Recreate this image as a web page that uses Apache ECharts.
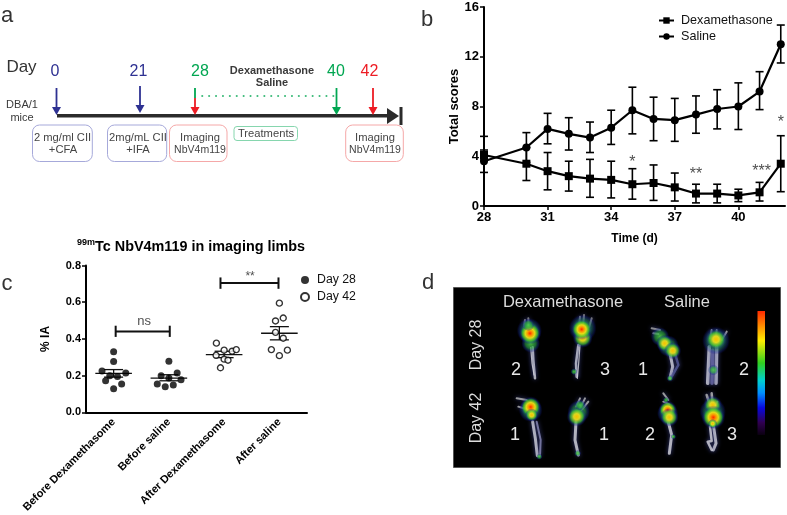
<!DOCTYPE html>
<html><head><meta charset="utf-8">
<style>html,body{margin:0;padding:0;background:#fff}#c{width:787px;height:515px}</style>
<script src="https://cdn.jsdelivr.net/npm/echarts@6/dist/echarts.min.js"></script>
</head><body><div id="c"></div>
<script>
// ---------- Panel b data ----------
const days = [28,30,31,32,33,34,35,36,37,38,39,40,41,42];
const dexMean = [4.1,3.4,2.8,2.4,2.2,2.1,1.75,1.85,1.5,1.0,1.0,0.85,1.1,3.4];
const dexHi   = [4.5,4.7,4.3,3.6,3.75,3.6,3.0,3.3,2.65,1.75,1.75,1.35,1.9,5.65];
const dexLo   = [3.7,2.05,1.3,1.2,0.7,0.65,0.55,0.45,0.4,0.25,0.25,0.35,0.4,1.15];
const salMean = [3.6,4.7,6.2,5.8,5.5,6.3,7.7,7.0,6.9,7.35,7.8,8.0,9.2,13.0];
const salHi   = [5.6,5.9,7.45,7.1,6.75,7.7,9.55,8.75,8.65,8.85,9.35,9.9,10.8,14.55];
const salLo   = [2.7,3.5,5.0,4.5,4.3,4.95,5.8,5.25,5.2,5.85,6.2,6.15,7.75,11.5];
const sigB = [[35,3.45,'*'],[38,2.55,'**'],[41.1,2.75,'***'],[42,6.7,'*']];
// ---------- Panel c data ----------
const groups = ['Before Dexamethasome','Before saline','After Dexamethasome','After saline'];
const g1 = [[0,.33],[0,.277],[-.21,.226],[.22,.214],[-.07,.199],[.07,.196],[-.145,.172],[.145,.154],[0,.129]];
const g2 = [[0,.279],[.15,.214],[-.14,.199],[0,.187],[.22,.178],[-.21,.154],[.08,.149],[-.066,.14]];
const g3 = [[-.14,.377],[0,.339],[.145,.333],[.22,.342],[-.145,.311],[0,.29],[.07,.284],[-.066,.243]];
const g4 = [[0,.595],[.07,.514],[-.07,.498],[-.07,.436],[.07,.404],[-.145,.342],[.145,.339],[0,.309]];
const groupMean = [.212,.187,.315,.431];
const groupHi = [.233,.205,.333,.467];
const groupLo = [.192,.172,.298,.395];
const brackets = [[.037,1.016,.44,.411,.472],[1.934,2.984,.704,.673,.735]];
const sigC = [[.55,.494,'ns',13],[2.47,.74,'**',12]];
// ---------- Panel a text ----------
const timelineDays = ['0','21','28','40','42'];

const G = echarts.graphic;
const FONT = '"Liberation Sans", Arial, sans-serif';
const BLUE='#2e3192', GREEN='#00a651', RED='#ed1c24', DARK='#3a3a3a';

function txt(x,y,s,size,fill,extra){
  return Object.assign({type:'text',x:x,y:y+1,silent:true,style:Object.assign({text:s,fontSize:size,fill:fill,fontFamily:FONT,
    textAlign:'center',textVerticalAlign:'middle'},extra&&extra.style||{})},extra&&extra.el||{});
}
function ln(x1,y1,x2,y2,col,w,dash){
  return {type:'line',silent:true,shape:{x1,y1,x2,y2},style:{stroke:col,lineWidth:w,lineDash:dash||null,lineCap:dash?'round':'butt'}};
}
function arrow(x,y1,y2,col){
  return [ln(x,y1,x,y2-6,col,1.8),
   {type:'polygon',silent:true,shape:{points:[[x-4.5,y2-8],[x+4.5,y2-8],[x,y2]]},style:{fill:col}}];
}
function box(x1,y1,x2,y2,col,r){
  return {type:'rect',silent:true,shape:{x:x1,y:y1,width:x2-x1,height:y2-y1,r:r},style:{fill:'#fff',stroke:col,lineWidth:1}};
}
const a = [];
a.push(txt(7,15,'a',22,'#333'));
a.push(txt(427,19,'b',22,'#333'));
a.push(txt(7,283,'c',22,'#333'));
a.push(txt(428,282,'d',22,'#333'));
a.push(txt(21.5,66,'Day',17,'#333'));
const dayX=[55,138.5,200,336,369.5], dayC=[BLUE,BLUE,GREEN,GREEN,RED];
timelineDays.forEach((d,i)=>a.push(txt(dayX[i],70.5,d,16,dayC[i])));
a.push(txt(272,69.5,'Dexamethasone',11,DARK,{style:{fontWeight:'bold'}}));
a.push(txt(272,82,'Saline',11,DARK,{style:{fontWeight:'bold'}}));
a.push(txt(22,104,'DBA/1',11,DARK));
a.push(txt(22,116.5,'mice',11,DARK));
a.push(ln(57,115.7,388,115.7,'#2b2b2b',3.6));
a.push({type:'polygon',silent:true,shape:{points:[[387,108],[387,124],[399,116]]},style:{fill:'#2b2b2b'}});
a.push(ln(401,107,401,125,'#2b2b2b',3));
a.push(...arrow(56.5,88,115,BLUE));
a.push(...arrow(140,86,113,BLUE));
a.push(ln(195,88,195,98,GREEN,1.8));
a.push(...arrow(195,98,115,RED));
a.push(...arrow(336.5,88,115,GREEN));
a.push(...arrow(373,88,115,RED));
a.push(ln(202,96,336,96,GREEN,1.6,[0.5,6.4]));
a.push(box(32.5,125,92.3,161.5,'#a6a9da',7));
a.push(box(107.5,125,166.7,161.5,'#a6a9da',7));
a.push(box(169.5,125,227,161.5,'#f5a8a8',7));
a.push(box(234,126.5,297.5,140.5,'#86d6ae',3));
a.push(box(345.7,125,403.3,161.5,'#f5a8a8',7));
const GT='#444';
a.push(txt(62.5,136.5,'2 mg/ml CII',11.2,GT)); a.push(txt(63,149,'+CFA',11.2,GT));
a.push(txt(138,136.5,'2mg/mL CII',11.2,GT)); a.push(txt(138,149,'+IFA',11.2,GT));
a.push(txt(200,137,'Imaging',11.2,GT)); a.push(txt(200,149,'NbV4m119',10.5,GT));
a.push(txt(266,132.5,'Treatments',11.2,GT));
a.push(txt(375,137,'Imaging',11.2,GT)); a.push(txt(375,149,'NbV4m119',10.5,GT));

// ---------- Panel d (image panel, drawn as shapes) ----------
const d = [];
d.push({type:'rect',silent:true,shape:{x:453.5,y:287.5,width:327,height:180},style:{fill:'#000',stroke:'#555',lineWidth:1}});
const LG='#dcdcdc';
d.push(txt(563,301,'Dexamethasone',16.5,LG,{style:{letterSpacing:.6}}));
d.push(txt(687,301,'Saline',16.5,LG,{style:{letterSpacing:.8}}));
d.push(txt(477,344,'Day 28',16,LG,{el:{rotation:Math.PI/2}}));
d.push(txt(477,417,'Day 42',16,LG,{el:{rotation:Math.PI/2}}));
[[516,369,'2'],[605,369,'3'],[643,369.5,'1'],[744,369.5,'2'],[515,434.5,'1'],[604,434.5,'1'],[650,434.5,'2'],[732,434.5,'3']]
 .forEach(n=>d.push(txt(n[0],n[1],n[2],18,'#e8e8e8')));
d.push({type:'rect',silent:true,shape:{x:757.5,y:311,width:7.5,height:124},style:{fill:new G.LinearGradient(0,0,0,1,[
 {offset:0,color:'#ff2a00'},{offset:.12,color:'#ff8c00'},{offset:.24,color:'#ffee00'},{offset:.42,color:'#30d020'},
 {offset:.56,color:'#00d0d0'},{offset:.66,color:'#0090ff'},{offset:.78,color:'#0808e0'},{offset:.9,color:'#300050'},{offset:1,color:'#0a0010'}])}});
function grad(kind){
  const blue={offset:.86,color:'rgba(20,40,150,.3)'}, none={offset:1,color:'rgba(10,10,100,0)'};
  if(kind==='h') return [{offset:0,color:'rgba(255,40,0,1)'},{offset:.2,color:'rgba(255,140,0,1)'},{offset:.42,color:'rgba(235,225,20,.95)'},{offset:.68,color:'rgba(60,190,50,.75)'},blue,none];
  if(kind==='w') return [{offset:0,color:'rgba(250,190,0,1)'},{offset:.3,color:'rgba(230,220,30,.95)'},{offset:.62,color:'rgba(70,190,60,.75)'},blue,none];
  return [{offset:0,color:'rgba(80,210,70,.9)'},{offset:.55,color:'rgba(40,160,70,.65)'},blue,none];
}
function limb(ox,oy,bones,blobs){
  const P=p=>[ox+p[0]/3,oy+p[1]/3];
  bones.forEach(b=>d.push({type:'polyline',silent:true,shape:{points:b[0].map(P)},
    style:{stroke:b[2]||'#d8d8e0',lineWidth:b[1],fill:null,lineCap:'round',lineJoin:'round',opacity:.8,shadowBlur:4,shadowColor:'#4a50a0'}}));
  blobs.forEach(b=>{const c=P(b);d.push({type:'ellipse',silent:true,shape:{cx:c[0],cy:c[1],rx:b[2]/3,ry:b[3]/3},
    style:{fill:new G.RadialGradient(.5,.5,.5,grad(b[4]))}});});
}
limb(500,310,[[[[98,112],[100,150],[105,205]],2.5],[[[92,112],[96,160],[102,195]],1.2],[[[75,30],[72,50]],2,'#999'],[[[85,25],[86,50]],2,'#999']],
 [[88,62,38,46,'g'],[92,100,28,30,'g'],[90,70,36,34,'h'],[85,45,18,18,'g']]);
limb(500,310,[[[[235,105],[228,160],[230,200]],2.5],[[[240,105],[236,160],[232,205]],1.2],[[[240,20],[238,40]],2,'#999'],[[[252,15],[250,40]],2,'#999'],[[[275,25],[268,50]],2,'#999']],
 [[248,55,42,50,'g'],[248,84,40,30,'w'],[245,58,36,32,'h'],[222,185,10,10,'g']]);
limb(630,310,[[[[65,55],[90,60]],2,'#aaa'],[[[70,70],[85,72]],2,'#aaa'],[[[120,130],[128,170],[120,205]],3],[[[135,130],[145,165],[125,200]],2.5,'#555a98']],
 [[90,80,32,28,'g'],[115,108,36,32,'g'],[104,100,26,26,'w'],[128,122,26,26,'w'],[120,205,10,10,'g']]);
limb(630,310,[[[[245,60],[240,85]],2,'#bbb'],[[[260,60],[258,85]],2,'#bbb'],[[[290,65],[275,90]],2,'#bbb'],
 [[[238,110],[233,220]],3.5],[[[260,110],[258,220]],3.5,'#c8c8d8'],[[[248,120],[246,220]],3.5,'#6a6aa8']],
 [[258,92,52,42,'g'],[258,88,38,32,'w'],[250,180,16,48,'g']]);
limb(500,385,[[[[50,40],[80,45]],2,'#bbb'],[[[55,65],[78,72]],2,'#bbb'],[[[98,110],[106,160],[112,212]],3],[[[110,110],[122,165],[120,212]],2,'#8a8ab8']],
 [[92,75,36,56,'g'],[92,66,32,38,'h'],[95,90,22,20,'w'],[118,215,9,10,'g']]);
limb(500,385,[[[[240,40],[228,65]],2,'#bbb'],[[[255,40],[240,70]],2,'#bbb'],[[[265,50],[245,75]],2,'#bbb'],[[[228,110],[225,165],[235,210]],3]],
 [[236,80,34,52,'g'],[230,95,30,30,'w'],[240,60,16,16,'g'],[233,205,10,15,'g']]);
limb(630,385,[[[[100,25],[115,45]],2,'#bbb'],[[[100,50],[118,58]],2,'#bbb'],[[[112,100],[125,150],[118,205]],3]],
 [[113,85,32,56,'g'],[113,75,30,28,'h'],[118,97,28,28,'w'],[108,45,10,9,'g'],[130,155,8,10,'g']]);
limb(630,385,[[[[230,30],[240,60]],2.5,'#bbb'],[[[245,25],[248,60]],2.5,'#bbb'],[[[262,50],[255,70]],2,'#bbb'],
 [[[250,120],[258,175],[250,195]],3],[[[240,125],[245,168],[233,170],[245,195]],2.5]],
 [[248,80,40,66,'g'],[248,60,32,28,'w'],[250,97,36,40,'h'],[248,116,16,14,'w']]);

// ---------- series helpers ----------
function errBars(hw){
  return function(p,api){
    const x=api.coord([api.value(0),api.value(1)])[0];
    const hi=api.coord([api.value(0),api.value(1)])[1], lo=api.coord([api.value(0),api.value(2)])[1];
    const s={stroke:'#000',lineWidth:1.6,fill:null};
    return {type:'group',children:[
      {type:'line',shape:{x1:x,y1:hi,x2:x,y2:lo},style:s},
      {type:'line',shape:{x1:x-hw,y1:hi,x2:x+hw,y2:hi},style:s},
      {type:'line',shape:{x1:x-hw,y1:lo,x2:x+hw,y2:lo},style:s}]};
  };
}
function meanBars(p,api){
  const i=api.value(0);
  const x=api.coord([i,api.value(1)])[0], m=api.coord([i,api.value(1)])[1], hi=api.coord([i,api.value(2)])[1], lo=api.coord([i,api.value(3)])[1];
  const s={stroke:'#111',lineWidth:1.3,fill:null};
  return {type:'group',children:[
    {type:'line',shape:{x1:x-18.3,y1:m,x2:x+18.3,y2:m},style:s},
    {type:'line',shape:{x1:x,y1:hi,x2:x,y2:lo},style:s},
    {type:'line',shape:{x1:x-9.5,y1:hi,x2:x+9.5,y2:hi},style:s},
    {type:'line',shape:{x1:x-9.5,y1:lo,x2:x+9.5,y2:lo},style:s}]};
}
function bracket(p,api){
  const x1=api.value(0),x2=api.value(1),y=api.value(2),y1=api.value(3),y2=api.value(4);
  const A=api.coord([x1,y]),B=api.coord([x2,y]),yl=api.coord([x1,y1])[1],yh=api.coord([x1,y2])[1];
  const s={stroke:'#111',lineWidth:2,fill:null};
  return {type:'group',children:[
    {type:'line',shape:{x1:A[0],y1:A[1],x2:B[0],y2:B[1]},style:s},
    {type:'line',shape:{x1:A[0],y1:yl,x2:A[0],y2:yh},style:s},
    {type:'line',shape:{x1:B[0],y1:yl,x2:B[0],y2:yh},style:s}]};
}
const idx=(g,i)=>g.map(p=>[i+p[0],p[1]]);
const day28Pts=[...idx(g1,0),...idx(g2,1)];
const day42Pts=[...idx(g3,2),...idx(g4,3)];
const axisCommon={axisLine:{onZero:false,lineStyle:{color:'#000',width:2}},axisTick:{length:4,lineStyle:{color:'#000',width:1.5}},splitLine:{show:false}};
const boldLab=(s,m)=>({color:'#000',fontFamily:FONT,fontWeight:'bold',fontSize:s,margin:m});

const option={
  animation:false,
  backgroundColor:'#fff',
  title:{left:77,top:238,padding:0,text:'{s|99m}{t|Tc NbV4m119 in imaging limbs}',
    textStyle:{rich:{s:{fontFamily:FONT,fontWeight:'bold',fontSize:9,verticalAlign:'top',lineHeight:16,color:'#000'},
                     t:{fontFamily:FONT,fontWeight:'bold',fontSize:14.4,lineHeight:18,color:'#000'}}}},
  grid:[{left:484,top:7,width:301,height:199,containLabel:false},{left:86,top:265.5,width:221,height:147.2}],
  xAxis:[
    Object.assign({},axisCommon,{type:'value',gridIndex:0,min:28,max:42.2,
      axisTick:{length:4,lineStyle:{color:'#000',width:1.5},customValues:[28,31,34,37,40]},
      axisLabel:Object.assign(boldLab(13,5),{customValues:[28,31,34,37,40]}),
      name:'Time (d)',nameLocation:'middle',nameGap:27,nameTextStyle:{color:'#000',fontFamily:FONT,fontWeight:'bold',fontSize:12}}),
    Object.assign({},axisCommon,{type:'category',gridIndex:1,data:groups,
      axisTick:{alignWithLabel:true,length:4,lineStyle:{color:'#000',width:1.5}},
      axisLabel:Object.assign(boldLab(11,8),{rotate:45,interval:0})}),
    {type:'value',gridIndex:1,min:-.5,max:3.5,show:false}
  ],
  yAxis:[
    Object.assign({},axisCommon,{type:'value',gridIndex:0,min:0,max:16,interval:4,axisLabel:boldLab(13,5),
      name:'Total scores',nameLocation:'middle',nameGap:20,nameTextStyle:{color:'#000',fontFamily:FONT,fontWeight:'bold',fontSize:13}}),
    Object.assign({},axisCommon,{type:'value',gridIndex:1,min:0,max:.8,interval:.2,axisLabel:Object.assign(boldLab(11,5),{formatter:v=>v.toFixed(1)}),
      name:'% IA',nameLocation:'middle',nameGap:34,nameTextStyle:{color:'#000',fontFamily:FONT,fontWeight:'bold',fontSize:12}})
  ],
  legend:[
    {data:['Dexamethasone','Saline'],orient:'vertical',left:658,top:14,itemWidth:15,itemHeight:8,itemGap:3,padding:0,
     textStyle:{fontFamily:FONT,fontSize:12.6,color:'#111',padding:[0,0,0,2]}},
    {data:['Day 28','Day 42'],orient:'vertical',left:300,top:274,itemWidth:8,itemHeight:8,itemGap:5,padding:0,
     textStyle:{fontFamily:FONT,fontSize:12.3,color:'#111',padding:[0,0,0,3]}}
  ],
  series:[
    {type:'custom',xAxisIndex:0,yAxisIndex:0,renderItem:errBars(4),silent:true,clip:false,data:days.map((x,i)=>[x,dexHi[i],dexLo[i]])},
    {type:'custom',xAxisIndex:0,yAxisIndex:0,renderItem:errBars(4),silent:true,clip:false,data:days.map((x,i)=>[x,salHi[i],salLo[i]])},
    {name:'Dexamethasone',type:'line',xAxisIndex:0,yAxisIndex:0,clip:false,symbol:'rect',symbolSize:8,
     lineStyle:{color:'#000',width:2.2},itemStyle:{color:'#000'},data:days.map((x,i)=>[x,dexMean[i]])},
    {name:'Saline',type:'line',xAxisIndex:0,yAxisIndex:0,clip:false,symbol:'circle',symbolSize:8,
     lineStyle:{color:'#000',width:2.2},itemStyle:{color:'#000'},data:days.map((x,i)=>[x,salMean[i]])},
    {type:'scatter',xAxisIndex:0,yAxisIndex:0,symbolSize:1,itemStyle:{color:'transparent'},silent:true,clip:false,
     label:{show:true,position:'inside',fontFamily:FONT,fontSize:16,color:'#222',formatter:p=>p.value[2]},data:sigB},
    {name:'Day 28',type:'scatter',xAxisIndex:2,yAxisIndex:1,symbol:'circle',symbolSize:7,itemStyle:{color:'#000'},data:day28Pts},
    {name:'Day 42',type:'scatter',xAxisIndex:2,yAxisIndex:1,symbol:'circle',symbolSize:6,itemStyle:{color:'#fff',borderColor:'#000',borderWidth:1.4},data:day42Pts},
    {type:'custom',xAxisIndex:2,yAxisIndex:1,renderItem:meanBars,silent:true,data:groups.map((g,i)=>[i,groupMean[i],groupHi[i],groupLo[i]])},
    {type:'custom',xAxisIndex:2,yAxisIndex:1,renderItem:bracket,silent:true,data:brackets},
    {type:'scatter',xAxisIndex:2,yAxisIndex:1,symbolSize:1,itemStyle:{color:'transparent'},silent:true,
     label:{show:true,position:'inside',fontFamily:FONT,color:'#222',formatter:p=>p.value[2]},data:sigC.map(s=>({value:s,label:{fontSize:s[3]}}))}
  ],
  graphic:{elements:[...a,...d]}
};
const chart=echarts.init(document.getElementById('c'),null,{renderer:'canvas'});
chart.setOption(option);
</script></body></html>
